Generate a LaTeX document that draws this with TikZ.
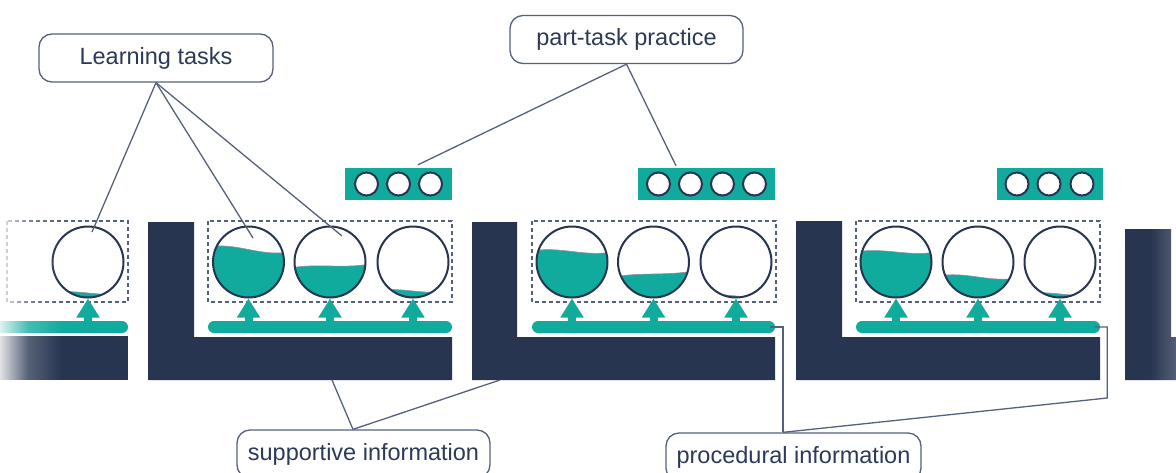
\documentclass[tikz,border=0pt]{standalone}
\usepackage{fontspec}
\setmainfont{Liberation Sans}
\usetikzlibrary{arrows.meta,fadings}

\definecolor{navy}{HTML}{283551}
\definecolor{sea}{HTML}{10AB9D}
\definecolor{ink}{HTML}{2B3A57}
\definecolor{wire}{HTML}{55617B}

% soft edges at both ends of the row
\tikzfading[name=fadeleft,left color=transparent!0,right color=transparent!100,middle color=transparent!78]
\tikzfading[name=faderight,left color=transparent!100,right color=transparent!75]

\begin{document}
\begin{tikzpicture}[x=1pt,y=-1pt]
  \tikzstyle{note}=[rectangle,draw=wire,line width=1.3pt,rounded corners=13pt,text=ink,font=\fontsize{23.5}{28}\selectfont,inner sep=0pt,minimum height=48pt]
  \tikzstyle{tank}=[circle,draw=navy,fill=white,line width=2pt,minimum size=71pt,inner sep=0pt]
  \tikzstyle{rail}=[rectangle,fill=sea,rounded corners=6pt,minimum height=12pt,inner sep=0pt]
  \tikzstyle{drill}=[rectangle,fill=sea,minimum height=32pt,inner sep=0pt]
  \tikzstyle{rep}=[circle,draw=navy,fill=white,line width=2pt,minimum size=23pt,inner sep=0pt]
  \tikzstyle{group}=[draw=wire,line width=1.2pt,dash pattern=on 4pt off 3pt]
  \tikzstyle{feed}=[sea,line width=8pt,-{Triangle[width=22pt,length=19pt]}]
  \tikzstyle{link}=[wire,line width=1.3pt]
  \tikzstyle{block}=[fill=navy]
  % water inside a tank: left and right level below the centre
  \tikzset{water/.style 2 args={path picture={
    \filldraw[fill=sea,draw=navy!55,line width=0.6pt]
      ([shift={(-40,#1)}]path picture bounding box.center)
      .. controls ([shift={(-12,#1-5)}]path picture bounding box.center)
      and ([shift={(12,#2+5)}]path picture bounding box.center)
      .. ([shift={(40,#2)}]path picture bounding box.center)
      -- ([shift={(40,40)}]path picture bounding box.center)
      -- ([shift={(-40,40)}]path picture bounding box.center) -- cycle;
  }}}

  \useasboundingbox (0,0) rectangle (1176,472);

  % support blocks
  \fill[block] (-5,336) rectangle (128,380);
  \fill[block] (148,222) -- (194,222) -- (194,337) -- (452,337) -- (452,380) -- (148,380) -- cycle;
  \fill[block] (472,222) -- (517,222) -- (517,337) -- (775,337) -- (775,380) -- (472,380) -- cycle;
  \fill[block] (796,221) -- (842,221) -- (842,337) -- (1100,337) -- (1100,380) -- (796,380) -- cycle;
  \fill[block] (1125,229) -- (1171,229) -- (1171,337) -- (1180,337) -- (1180,380) -- (1125,380) -- cycle;
  \coordinate (l1) at (332,380);
  \coordinate (l2) at (500,380);

  % task groups
  \draw[group] (7,221) rectangle (128,302);
  \draw[group] (208,221) rectangle (452,302);
  \draw[group] (532,221) rectangle (776,302);
  \draw[group] (856,221) rectangle (1100,302);

  % procedural rails
  \node[rail,minimum width=145pt] (b0) at (55.5,327) {};
  \node[rail,minimum width=244pt] (b1) at (330,327) {};
  \node[rail,minimum width=243pt] (b2) at (653.5,327) {};
  \node[rail,minimum width=244pt] (b3) at (978,327) {};

  % learning tasks
  \node[tank,water={31}{31}] (t0) at (88,262) {};
  \node[tank,water={-15}{-10}] (t11) at (248.5,262) {};
  \node[tank,water={6}{2}] (t12) at (330,262) {};
  \node[tank,water={29}{29}] (t13) at (413,262) {};
  \node[tank,water={-11}{-10}] (t21) at (572,262) {};
  \node[tank,water={15}{9}] (t22) at (653.5,262) {};
  \node[tank,water={34}{34}] (t23) at (736,262) {};
  \node[tank,water={-10}{-10}] (t31) at (896,262) {};
  \node[tank,water={14}{16}] (t32) at (978,262) {};
  \node[tank,water={32}{32}] (t33) at (1060,262) {};

  \foreach \t in {t0,t11,t12,t13,t21,t22,t23,t31,t32,t33}
    \draw[feed] ([yshift=-24pt]\t.south) -- (\t.south);

  % part-task practice
  \node[drill,minimum width=107pt] (p1) at (398.5,184) {};
  \node[drill,minimum width=137pt] (p2) at (706.5,184) {};
  \node[drill,minimum width=106pt] (p3) at (1050,184) {};
  \foreach \i/\dx in {1/-32,2/0,3/32}
    \node[rep] (p1\i) at ([xshift=\dx pt]p1.center) {};
  \foreach \i/\dx in {1/-48,2/-16,3/16,4/48}
    \node[rep] (p2\i) at ([xshift=\dx pt]p2.center) {};
  \foreach \i/\dx in {1/-33,2/-1,3/32}
    \node[rep] (p3\i) at ([xshift=\dx pt]p3.center) {};

  % callouts
  \node[note,minimum width=234pt] (lt) at (156,58) {Learning tasks};
  \node[note,minimum width=233pt] (pt) at (626.5,39.5) {part-task practice};
  \node[note,minimum width=253pt] (si) at (363.5,454) {supportive information};
  \node[note,minimum width=255pt] (pi) at (793.5,457) {procedural information};

  \draw[link] (lt.south) -- ([shift={(4,-30)}]t0.center);
  \draw[link] (lt.south) -- ([shift={(4.5,-24)}]t11.center);
  \draw[link] (lt.south) -- ([shift={(12,-26)}]t12.center);
  \draw[link] (pt.south) -- ([shift={(19.5,-3)}]p1.north);
  \draw[link] (pt.south) -- ([shift={(-30.5,-2)}]p2.north);
  \draw[link] ([xshift=-10.5pt]si.north) -- (l1);
  \draw[link] ([xshift=-10.5pt]si.north) -- (l2);
  \draw[link] ([xshift=-10.5pt]pi.north) |- ([xshift=-5pt]b2.east);
  \draw[link] ([xshift=-10.5pt]pi.north) -- ([shift={(7,71)}]b3.east) |- ([xshift=-5pt]b3.east);

  % fade out the cut ends
  \fill[white,path fading=fadeleft] (-6,205) rectangle (62,390);
  \fill[white,path fading=faderight] (1150,220) rectangle (1181,390);
\end{tikzpicture}
\end{document}
